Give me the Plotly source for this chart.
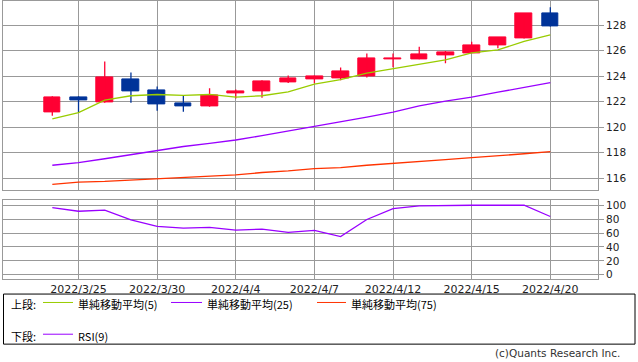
import plotly.graph_objects as go

dates = ["2022/3/24", "2022/3/25", "2022/3/28", "2022/3/29", "2022/3/30", "2022/3/31", "2022/4/1",
         "2022/4/4", "2022/4/5", "2022/4/6", "2022/4/7", "2022/4/8", "2022/4/11", "2022/4/12",
         "2022/4/13", "2022/4/14", "2022/4/15", "2022/4/18", "2022/4/19", "2022/4/20"]
open_ = [121.14, 122.36, 121.92, 123.76, 122.90, 121.90, 121.60, 122.62, 122.78, 123.55,
         123.76, 123.86, 124.02, 125.36, 125.33, 125.62, 125.83, 126.42, 126.96, 128.95]
high = [122.44, 122.44, 125.16, 124.30, 123.20, 122.47, 123.06, 122.96, 123.68, 124.05,
        124.05, 124.69, 125.78, 125.78, 126.32, 125.98, 126.70, 127.02, 128.95, 129.42]
low = [120.90, 121.15, 121.92, 121.92, 121.30, 121.22, 121.60, 122.26, 122.31, 123.47,
       123.45, 123.68, 123.91, 124.71, 125.33, 125.02, 125.83, 126.19, 126.96, 127.90]
close = [122.36, 122.08, 123.91, 122.85, 121.77, 121.60, 122.47, 122.83, 123.60, 123.84,
         123.99, 124.38, 125.39, 125.37, 125.70, 125.85, 126.40, 127.02, 128.95, 127.90]
ma5 = [120.66, 121.15, 122.13, 122.47, 122.57, 122.50, 122.57, 122.36, 122.47, 122.78,
       123.38, 123.74, 124.25, 124.61, 124.92, 125.29, 125.83, 126.06, 126.73, 127.25]
ma25 = [117.02, 117.22, 117.53, 117.87, 118.20, 118.49, 118.74, 119.00, 119.34, 119.70,
        120.02, 120.37, 120.79, 121.18, 121.67, 122.05, 122.36, 122.75, 123.14, 123.50]
ma75 = [115.52, 115.70, 115.75, 115.85, 115.95, 116.03, 116.14, 116.26, 116.45, 116.57,
        116.76, 116.84, 117.02, 117.15, 117.30, 117.46, 117.61, 117.79, 117.92, 118.08]
rsi = [96.7, 91.4, 92.9, 79.0, 69.5, 67.1, 68.1, 64.3, 65.7, 61.0,
       63.8, 54.8, 79.5, 95.2, 99.0, 100.0, 100.0, 100.0, 100.0, 83.8]
date_ticks = ["2022/3/25", "2022/3/30", "2022/4/4", "2022/4/7", "2022/4/12", "2022/4/15", "2022/4/20"]
price_ticks = [116, 118, 120, 122, 124, 126, 128]
rsi_ticks = [0, 20, 40, 60, 80, 100]

UP = "#ff0033"
DOWN = "#003399"
GRID = "#999999"
W, H = 638, 362

def px(x):
    return x / W

def py(y):
    return 1 - y / H

fig = go.Figure()

# candle bodies
colors = [UP if c >= o else DOWN for o, c in zip(open_, close)]
fig.add_trace(go.Bar(
    x=dates, y=[abs(c - o) for o, c in zip(open_, close)],
    base=[min(o, c) for o, c in zip(open_, close)],
    width=0.64, marker=dict(color=colors, line=dict(color=colors, width=1)),
    xaxis="x", yaxis="y", showlegend=False, hoverinfo="skip"))

# wicks
for col in (UP, DOWN):
    wx, wy = [], []
    for d, h, l, c in zip(dates, high, low, colors):
        if c == col:
            wx += [d, d, None]
            wy += [l, h, None]
    fig.add_trace(go.Scatter(x=wx, y=wy, mode="lines", line=dict(color=col, width=1.3),
                             xaxis="x", yaxis="y", showlegend=False, hoverinfo="skip"))

fig.add_trace(go.Scatter(x=dates, y=ma5, mode="lines", line=dict(color="#99cc00", width=1.3),
                         xaxis="x", yaxis="y", showlegend=False))
fig.add_trace(go.Scatter(x=dates, y=ma25, mode="lines", line=dict(color="#9900ff", width=1.3),
                         xaxis="x", yaxis="y", showlegend=False))
fig.add_trace(go.Scatter(x=dates, y=ma75, mode="lines", line=dict(color="#ff3300", width=1.3),
                         xaxis="x", yaxis="y", showlegend=False))
fig.add_trace(go.Scatter(x=dates, y=rsi, mode="lines", line=dict(color="#9900ff", width=1.3),
                         xaxis="x2", yaxis="y2", showlegend=False))

xr = [-1.87, 20.82]
xdom = [px(3.3), px(598)]
tickfont = dict(family="DejaVu Sans", size=11, color="#222")
common_x = dict(type="category", range=xr, domain=xdom, tickmode="array", tickvals=date_ticks,
                ticktext=date_ticks, showgrid=True, gridcolor=GRID, gridwidth=1,
                showline=True, linecolor=GRID, linewidth=1, mirror=True, ticks="",
                zeroline=False, fixedrange=True)
fig.update_layout(
    width=W, height=H, margin=dict(l=0, r=0, t=0, b=0),
    paper_bgcolor="white", plot_bgcolor="white", bargap=0,
    xaxis=dict(common_x, anchor="y", showticklabels=False),
    xaxis2=dict(common_x, anchor="y2", showticklabels=True, tickfont=tickfont),
    yaxis=dict(domain=[py(190.3), py(0.4)], range=[115.1, 129.87], side="right",
               tickmode="array", tickvals=price_ticks, showgrid=True, gridcolor=GRID,
               showline=True, linecolor=GRID, mirror=True, ticks="outside", ticklen=5,
               tickcolor=GRID, tickfont=dict(family="DejaVu Sans", size=10.5, color="#222"),
               zeroline=False, anchor="x", fixedrange=True),
    yaxis2=dict(domain=[py(280), py(201)], range=[-5.7, 107.1], side="right",
                tickmode="array", tickvals=rsi_ticks, showgrid=True, gridcolor=GRID,
                showline=True, linecolor=GRID, mirror=True, ticks="outside", ticklen=5,
                tickcolor=GRID, tickfont=dict(family="DejaVu Sans", size=10.5, color="#222"),
                zeroline=False, anchor="x2", fixedrange=True),
)

# legend box
shapes = [dict(type="rect", xref="paper", yref="paper", x0=px(3.5), x1=px(635), y0=py(346), y1=py(295.5),
               line=dict(color="#000", width=1), fillcolor="rgba(0,0,0,0)")]
cjk = "Noto Sans CJK JP"
ann = []
ROW1, ROW2 = 304, 336
legend_items = [
    (43, 73, ROW1, "#99cc00", "単純移動平均(5)"),
    (171, 202, ROW1, "#9900ff", "単純移動平均(25)"),
    (317, 346, ROW1, "#ff3300", "単純移動平均(75)"),
    (43, 73, ROW2, "#9900ff", "RSI(9)"),
]
for x0, x1, yy, col, txt in legend_items:
    shapes.append(dict(type="line", xref="paper", yref="paper", x0=px(x0), x1=px(x1),
                       y0=py(yy), y1=py(yy), line=dict(color=col, width=1)))
    ann.append(dict(text=txt, xref="paper", yref="paper", x=px(x1 + 4), y=py(yy + 2), xanchor="left",
                    yanchor="middle", showarrow=False, borderpad=0,
                    font=dict(family=cjk, size=11, color="#000")))
ann.append(dict(text="上段:", xref="paper", yref="paper", x=px(10), y=py(ROW1 + 2), xanchor="left",
                yanchor="middle", showarrow=False, borderpad=0,
                font=dict(family=cjk, size=11, color="#000")))
ann.append(dict(text="下段:", xref="paper", yref="paper", x=px(10), y=py(ROW2 + 2), xanchor="left",
                yanchor="middle", showarrow=False, borderpad=0,
                font=dict(family=cjk, size=11, color="#000")))
ann.append(dict(text="(c)Quants Research Inc.", xref="paper", yref="paper", x=px(621), y=py(355),
                xanchor="right", yanchor="middle", showarrow=False, borderpad=0,
                font=dict(family="DejaVu Sans", size=10.5, color="#333")))
fig.update_layout(shapes=shapes, annotations=ann)

fig.write_html("out.html", config={"displayModeBar": False},
               post_script="document.body.style.margin='0';document.body.style.overflow='hidden';")
